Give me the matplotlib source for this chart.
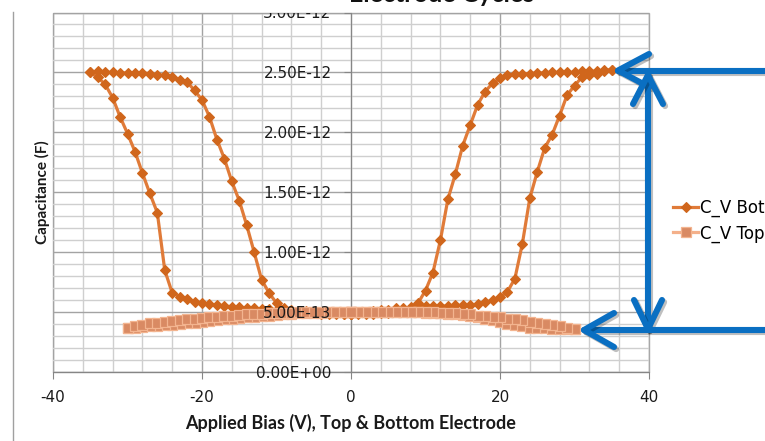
import matplotlib
matplotlib.use("Agg")
import matplotlib.pyplot as plt
from matplotlib.lines import Line2D
from matplotlib.ticker import MultipleLocator, FuncFormatter
from matplotlib.transforms import Bbox, TransformedBbox
import matplotlib.patheffects as pe
import numpy as np

plt.rcParams["axes.unicode_minus"] = False

# ---- C-V sweep of the bottom electrode (bias in V, capacitance in pF) ----
bot_up_pos_v = [0, 1, 2, 3, 4, 5, 6, 7, 8, 9, 10, 11, 12, 13, 14, 15, 16, 17,
                18, 19, 20, 21, 22, 23, 24, 25, 26, 27, 28, 29, 30, 31, 32, 33, 34, 35]
bot_up_pos_c = [0.48, 0.49, 0.50, 0.51, 0.52, 0.52, 0.53, 0.53, 0.54, 0.545, 0.55, 0.55,
                0.55, 0.55, 0.555, 0.555, 0.56, 0.565, 0.58, 0.60, 0.625, 0.67, 0.78, 1.07,
                1.45, 1.67, 1.87, 1.98, 2.14, 2.31, 2.39, 2.46, 2.475, 2.49, 2.51, 2.52]

bot_down_pos_v = [35, 34, 33, 32, 31, 30, 29, 28, 27, 26, 25, 24, 23, 22, 21, 20, 19, 18,
                  17, 16, 15, 14, 13, 12, 11, 10, 9, 8, 7, 6, 5, 4, 3, 2, 1, 0]
bot_down_pos_c = [2.52, 2.52, 2.51, 2.51, 2.51, 2.50, 2.50, 2.50, 2.50, 2.495, 2.495, 2.49,
                  2.49, 2.485, 2.475, 2.45, 2.41, 2.34, 2.23, 2.06, 1.89, 1.65, 1.44, 1.10,
                  0.83, 0.68, 0.575, 0.53, 0.51, 0.50, 0.49, 0.49, 0.485, 0.48, 0.48, 0.48]

bot_up_neg_v = [0, -1, -2, -3, -4, -5, -6, -7, -8, -9, -10, -11, -12, -13, -14, -15, -16, -17,
                -18, -19, -20, -21, -22, -23, -24, -25, -26, -27, -28, -29, -30, -31, -32,
                -33, -34, -35]
bot_up_neg_c = [0.48, 0.48, 0.49, 0.49, 0.50, 0.50, 0.51, 0.51, 0.515, 0.52, 0.52, 0.525,
                0.525, 0.53, 0.535, 0.54, 0.545, 0.55, 0.555, 0.565, 0.575, 0.585, 0.61,
                0.63, 0.66, 0.85, 1.33, 1.49, 1.66, 1.84, 1.99, 2.13, 2.29, 2.40, 2.46, 2.50]

bot_down_neg_v = [-35, -34, -33, -32, -31, -30, -29, -28, -27, -26, -25, -24, -23, -22, -21,
                  -20, -19, -18, -17, -16, -15, -14, -13, -12, -11, -10, -9, -8, -7, -6, -5,
                  -4, -3, -2, -1, 0]
bot_down_neg_c = [2.50, 2.51, 2.50, 2.50, 2.495, 2.495, 2.495, 2.495, 2.49, 2.48, 2.475,
                  2.46, 2.44, 2.42, 2.35, 2.27, 2.13, 1.94, 1.78, 1.59, 1.43, 1.225, 1.00,
                  0.77, 0.66, 0.575, 0.53, 0.51, 0.50, 0.49, 0.49, 0.485, 0.48, 0.48, 0.48,
                  0.48]

# ---- C-V sweep of the top electrode (bias in V, capacitance in pF) ----
top_out_pos_v = [0, 1, 2, 3, 4, 5, 6, 7, 8, 9, 10, 11, 12, 13, 14, 15, 16, 17, 18, 19, 20,
                 21, 22, 23, 24, 25, 26, 27, 28, 29, 30]
top_out_pos_c = [0.50, 0.50, 0.50, 0.50, 0.50, 0.50, 0.50, 0.50, 0.50, 0.50, 0.495, 0.49,
                 0.49, 0.485, 0.48, 0.475, 0.465, 0.455, 0.445, 0.43, 0.42, 0.40, 0.39,
                 0.38, 0.37, 0.37, 0.365, 0.36, 0.36, 0.355, 0.355]

top_back_pos_v = [30, 29, 28, 27, 26, 25, 24, 23, 22, 21, 20, 19, 18, 17, 16, 15, 14, 13,
                  12, 11, 10, 9, 8, 7, 6, 5, 4, 3, 2, 1, 0]
top_back_pos_c = [0.355, 0.37, 0.38, 0.39, 0.40, 0.41, 0.42, 0.43, 0.44, 0.445, 0.455, 0.46,
                  0.465, 0.47, 0.48, 0.485, 0.49, 0.49, 0.495, 0.50, 0.50, 0.50, 0.50, 0.50,
                  0.50, 0.50, 0.50, 0.50, 0.50, 0.50, 0.50]

top_out_neg_v = [0, -1, -2, -3, -4, -5, -6, -7, -8, -9, -10, -11, -12, -13, -14, -15, -16,
                 -17, -18, -19, -20, -21, -22, -23, -24, -25, -26, -27, -28, -29, -30]
top_out_neg_c = [0.50, 0.50, 0.50, 0.50, 0.495, 0.495, 0.49, 0.49, 0.485, 0.48, 0.475, 0.47,
                 0.465, 0.46, 0.455, 0.45, 0.445, 0.44, 0.435, 0.425, 0.415, 0.41, 0.405,
                 0.40, 0.395, 0.39, 0.385, 0.38, 0.375, 0.37, 0.365]

top_back_neg_v = [-30, -29, -28, -27, -26, -25, -24, -23, -22, -21, -20, -19, -18, -17, -16,
                  -15, -14, -13, -12, -11, -10, -9, -8, -7, -6, -5, -4, -3, -2, -1, 0]
top_back_neg_c = [0.365, 0.385, 0.395, 0.405, 0.41, 0.42, 0.425, 0.43, 0.44, 0.445, 0.45,
                  0.455, 0.46, 0.465, 0.47, 0.475, 0.48, 0.48, 0.485, 0.49, 0.49, 0.495,
                  0.495, 0.50, 0.50, 0.50, 0.50, 0.50, 0.50, 0.50, 0.50]

series_labels = ["C_V Bottom Electrode", "C_V Top Electrode"]
x_ticks = [-40, -20, 0, 20, 40]
c_ticks_pf = [0.0, 0.5, 1.0, 1.5, 2.0, 2.5, 3.0]
PF = 1e-12

bot_v = bot_up_pos_v + bot_down_pos_v + bot_up_neg_v + bot_down_neg_v
bot_c = np.array(bot_up_pos_c + bot_down_pos_c + bot_up_neg_c + bot_down_neg_c) * PF
top_v = top_out_pos_v + top_back_pos_v + top_out_neg_v + top_back_neg_v
top_c = np.array(top_out_pos_c + top_back_pos_c + top_out_neg_c + top_back_neg_c) * PF
c_ticks = np.array(c_ticks_pf) * PF

W, H = 765, 441


def fx(px):
    return px / W


def fy(py):
    return 1 - py / H


fig = plt.figure(figsize=(W / 100, H / 100), dpi=100)
fig.patch.set_facecolor("white")

rect = [fx(53), fy(372), (649 - 53) / W, (372 - 12.5) / H]
ax = fig.add_axes(rect)
ax.set_xlim(-40, 40)
ax.set_ylim(0, 3 * PF)

# grid
ax.set_axisbelow(True)
ax.xaxis.set_major_locator(MultipleLocator(20))
ax.xaxis.set_minor_locator(MultipleLocator(4))
ax.yaxis.set_major_locator(MultipleLocator(0.5 * PF))
ax.yaxis.set_minor_locator(MultipleLocator(0.1 * PF))
ax.grid(which="major", color="#A3A3A3", lw=1.0)
ax.grid(which="minor", color="#CFCFCF", lw=1.0)
ax.patch.set_edgecolor("#A8A8A8")
ax.patch.set_linewidth(1.0)

for s in ("top", "right"):
    ax.spines[s].set_visible(False)
ax.spines["left"].set_position(("data", 0))
ax.spines["left"].set_color("#868686")
ax.spines["left"].set_zorder(0.6)
ax.spines["bottom"].set_color("#868686")
ax.spines["bottom"].set_zorder(0.6)

ax.set_xticks(x_ticks)
ax.tick_params(axis="x", which="major", direction="out", length=5, color="#868686",
               pad=8, labelsize=11, labelcolor="#1a1a1a")
ax.tick_params(axis="both", which="minor", length=0)
ax.tick_params(axis="y", which="major", direction="out", length=5, color="#868686",
               labelleft=False)
for lbl in ax.get_xticklabels():
    lbl.set_family("DejaVu Sans")

ax.set_xlabel("Applied Bias (V), Top & Bottom Electrode", family="Lato",
              fontweight="bold", fontsize=13, color="#1a1a1a")
ax.xaxis.set_label_coords(0.5, -(414 - 372) / (372 - 12.5), transform=ax.transAxes)
ax.set_ylabel("Capacitance (F)", family="Lato", fontweight="bold", fontsize=11,
              color="#1a1a1a")
ax.yaxis.set_label_coords((50 - 53) / (649 - 53), 0.5)

# series
ax.plot(bot_v, bot_c, color="#E07B39", lw=2.3, marker="D", ms=4.8,
        mfc="#D0661C", mec="#D0661C", mew=0.8, label=series_labels[0], zorder=3)
ax.plot(top_v, top_c, color="#F4B08A", lw=2.3, marker="s", ms=6.6,
        mfc="#D98A63", mec="#F3B48F", mew=0.9, label=series_labels[1], zorder=4)

# y tick labels sit on the vertical axis at 0 V, drawn above the data
ax2 = fig.add_axes(rect, zorder=5)
ax2.set_xlim(-40, 40)
ax2.set_ylim(0, 3 * PF)
ax2.patch.set_visible(False)
for s in ax2.spines.values():
    s.set_visible(False)
ax2.spines["left"].set_position(("data", 0))
ax2.set_xticks([])
ax2.set_yticks(c_ticks)
ax2.yaxis.set_major_formatter(FuncFormatter(lambda v, _: f"{v:.2E}"))
ax2.tick_params(axis="y", length=0, pad=14, labelsize=11, labelcolor="#1a1a1a")

# legend (runs off the right edge)
handles, labels = ax.get_legend_handles_labels()
fig.legend(handles, labels, loc="center left", bbox_to_anchor=(fx(673), fy(220.5)),
           frameon=False, prop={"family": "DejaVu Sans", "size": 12},
           handlelength=1.5, handletextpad=0.15, labelspacing=0.45,
           borderpad=0, borderaxespad=0, numpoints=1)

# title, mostly above the top edge
fig.text(fx(442), fy(2.5), "Electrode Cycles", ha="center", va="baseline",
         family="Lato", fontweight="bold", fontsize=18, color="#111111")

# chart-area edge on the left
fig.add_artist(Line2D([fx(13), fx(13)], [0, fy(12)], transform=fig.transFigure,
                      color="#A0A0A0", lw=1.0))

# blue callout arrows
blue = "#0A6FC2"
shadow = [pe.SimpleLineShadow(offset=(1.5, -1.5), shadow_color="#000000", alpha=0.25),
          pe.Normal()]


def seg(points):
    xs = [fx(p[0]) for p in points]
    ys = [fy(p[1]) for p in points]
    fig.add_artist(Line2D(xs, ys, transform=fig.transFigure, color=blue, lw=4.4,
                          solid_capstyle="round", solid_joinstyle="round",
                          path_effects=shadow))


# top arrow to the saturation point
seg([(770, 70.5), (618, 70.5)])
seg([(649, 54), (618, 70.5), (649, 87)])
# double arrow spanning the two capacitance levels
seg([(648, 75), (648, 329)])
seg([(633, 104), (648, 75), (663, 104)])
seg([(634, 300), (648, 329), (662, 300)])
# bottom arrow to the low-capacitance end
seg([(770, 330), (584, 330)])
seg([(614, 313), (584, 330), (614, 347)])

fig.canvas.draw()
clip = TransformedBbox(Bbox([[0, 0], [1, fy(12.5)]]), fig.transFigure)
for lbl in ax2.yaxis.get_ticklabels():
    lbl.set_clip_on(True)
    lbl.set_clip_box(clip)

fig.savefig("out.png", dpi=100, facecolor="white")
